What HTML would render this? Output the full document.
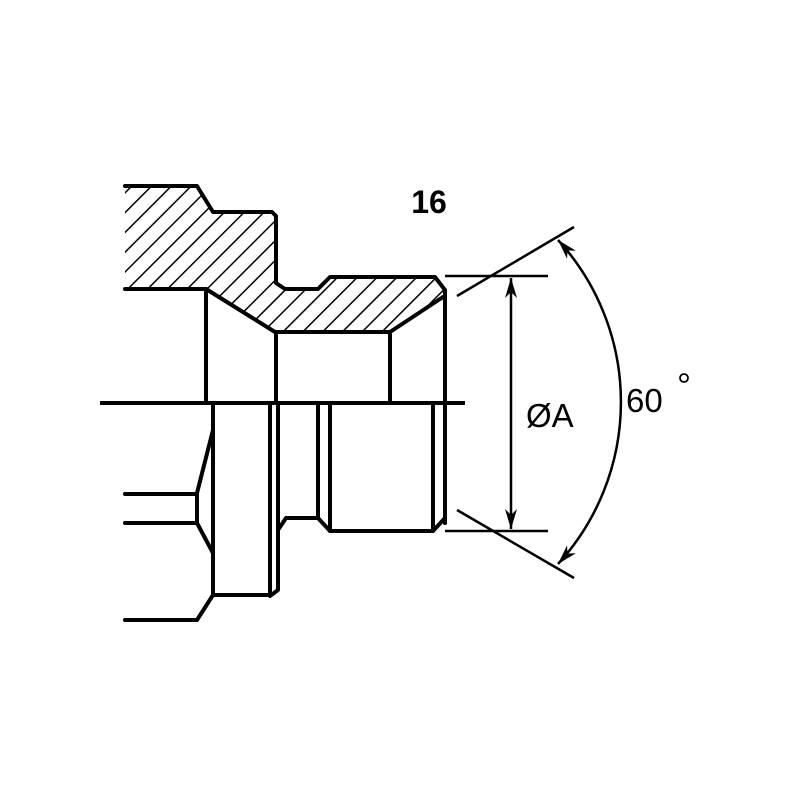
<!DOCTYPE html>
<html><head><style>html,body{margin:0;padding:0;background:#fff}</style></head>
<body>
<svg width="800" height="800" viewBox="0 0 800 800" xmlns="http://www.w3.org/2000/svg">
<defs>
<pattern id="h" patternUnits="userSpaceOnUse" width="14" height="14" patternTransform="rotate(45)">
<line x1="0" y1="0" x2="0" y2="14" stroke="#000" stroke-width="3"/>
</pattern>
<marker id="a" viewBox="0 0 10 10" refX="10" refY="5" markerWidth="20" markerHeight="20" markerUnits="userSpaceOnUse" orient="auto-start-reverse"><path d="M0,2 L10,5 L0,8 L3,5 z" fill="#000"/></marker>
</defs>
<g stroke="#000" fill="none" stroke-width="4" stroke-linejoin="round" stroke-linecap="round">
<path d="M125,186 L197,186 L213,212 L273,212 L276,216 L276,283 L285,289 L318,289 L330,277 L435,277 L445,290 L443,297 L390,332 L275,332 L206,289 L125,289 Z" fill="url(#h)" stroke="none"/>
<path d="M125,186 L197,186 L213,212 L272,212 L276,216 L276,283 L285,289 L318,289 L330,277 L435,277 L445,290 L445,523"/>
<path d="M125,289 L206,289 L275,332 L390,332 L443,297"/>
<path d="M206,289 V403 M276,332 V403 M390,332 V403"/>
<path d="M213,403 V595 M270,403 V595 M278,403 V590 L270,596 M213,595 H270 M213,595 L197,620 H125"/>
<path d="M213,430 L197,493 V523 L213,553 M125,494 H197 M125,523 H197"/>
<path d="M278,530 L286,518 H318 L330,531 H433 L445,518 M318,403 V518 M330,403 V531 M433,403 V531"/>
</g>
<line x1="100" y1="403" x2="465" y2="403" stroke="#000" stroke-width="4"/>
<g stroke="#000" stroke-width="2.5" fill="none">
<path d="M445,276 H548 M445,531 H548 M457,296 L574,227 M457,510 L574,578"/>
<line x1="511" y1="278" x2="511" y2="529" marker-start="url(#a)" marker-end="url(#a)"/>
<path d="M558,240 A240,240 0 0 1 558,564" marker-start="url(#a)" marker-end="url(#a)"/>
<circle cx="684" cy="378" r="4" stroke-width="1.8"/>
</g>
<text x="429" y="213" font-family="Liberation Sans, sans-serif" font-weight="bold" font-size="32" text-anchor="middle">16</text>
<text x="526" y="427" font-family="Liberation Sans, sans-serif" font-size="33">ØA</text>
<text x="626" y="412" font-family="Liberation Sans, sans-serif" font-size="33">60</text>
</svg>
</body></html>
